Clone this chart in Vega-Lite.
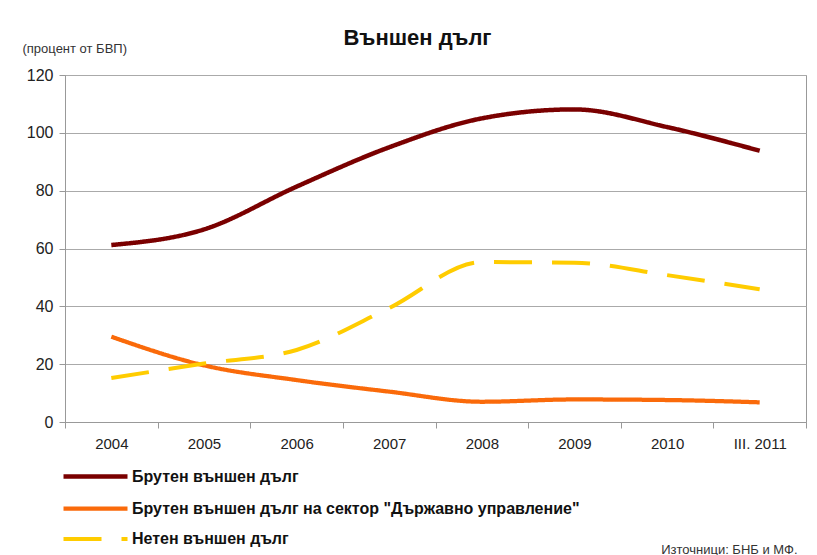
{
  "$schema": "https://vega.github.io/schema/vega-lite/v6.json",
  "width": 741,
  "height": 347,
  "autosize": {"type": "none"},
  "padding": {"left": 65, "top": 75, "right": 11, "bottom": 133},
  "background": "white",
  "title": {
    "text": "Външен дълг",
    "font": "Liberation Sans",
    "fontSize": 22,
    "fontWeight": "bold",
    "color": "#111111",
    "anchor": "middle",
    "dx": -18,
    "offset": -8
  },
  "data": {
    "values": [
      {"year": "2004", "series": "Брутен външен дълг", "value": 61.2},
      {"year": "2005", "series": "Брутен външен дълг", "value": 66.6},
      {"year": "2006", "series": "Брутен външен дълг", "value": 81.4},
      {"year": "2007", "series": "Брутен външен дълг", "value": 95.0},
      {"year": "2008", "series": "Брутен външен дълг", "value": 105.0},
      {"year": "2009", "series": "Брутен външен дълг", "value": 108.1},
      {"year": "2010", "series": "Брутен външен дълг", "value": 102.0},
      {"year": "III. 2011", "series": "Брутен външен дълг", "value": 93.8},
      {"year": "2004", "series": "Брутен външен дълг на сектор \"Държавно управление\"", "value": 29.5},
      {"year": "2005", "series": "Брутен външен дълг на сектор \"Държавно управление\"", "value": 19.6},
      {"year": "2006", "series": "Брутен външен дълг на сектор \"Държавно управление\"", "value": 14.5},
      {"year": "2007", "series": "Брутен външен дълг на сектор \"Държавно управление\"", "value": 10.5},
      {"year": "2008", "series": "Брутен външен дълг на сектор \"Държавно управление\"", "value": 7.0},
      {"year": "2009", "series": "Брутен външен дълг на сектор \"Държавно управление\"", "value": 7.8},
      {"year": "2010", "series": "Брутен външен дълг на сектор \"Държавно управление\"", "value": 7.6},
      {"year": "III. 2011", "series": "Брутен външен дълг на сектор \"Държавно управление\"", "value": 6.8},
      {"year": "2004", "series": "Нетен външен дълг", "value": 15.2},
      {"year": "2005", "series": "Нетен външен дълг", "value": 20.2},
      {"year": "2006", "series": "Нетен външен дълг", "value": 24.9},
      {"year": "2007", "series": "Нетен външен дълг", "value": 39.4},
      {"year": "2008", "series": "Нетен външен дълг", "value": 55.3},
      {"year": "2009", "series": "Нетен външен дълг", "value": 55.1},
      {"year": "2010", "series": "Нетен външен дълг", "value": 50.8},
      {"year": "III. 2011", "series": "Нетен външен дълг", "value": 45.9}
    ]
  },
  "mark": {"type": "line", "interpolate": "monotone", "strokeCap": "butt"},
  "encoding": {
    "x": {
      "field": "year",
      "type": "ordinal",
      "sort": ["2004", "2005", "2006", "2007", "2008", "2009", "2010", "III. 2011"],
      "bandPosition": 0.5,
      "scale": {"type": "band", "paddingInner": 0, "paddingOuter": 0},
      "axis": {
        "title": "Източници: БНБ и МФ.",
        "titleFont": "Liberation Sans",
        "titleFontSize": 13,
        "titleFontWeight": "normal",
        "titleColor": "#333333",
        "titleAnchor": "end",
        "titleAlign": "right",
        "titleBaseline": "alphabetic",
        "titleX": 732,
        "titleY": 131,
        "tickBand": "extent",
        "labelAngle": 0,
        "labelFont": "Liberation Sans",
        "labelFontSize": 15,
        "labelColor": "#222222",
        "labelPadding": 8,
        "tickSize": 6,
        "tickColor": "#999999",
        "domainColor": "#999999",
        "grid": false
      }
    },
    "y": {
      "field": "value",
      "type": "quantitative",
      "scale": {"domain": [0, 120], "nice": false},
      "axis": {
        "values": [0, 20, 40, 60, 80, 100, 120],
        "title": "(процент от БВП)",
        "titleFont": "Liberation Sans",
        "titleFontSize": 13,
        "titleFontWeight": "normal",
        "titleColor": "#333333",
        "titleAngle": 0,
        "titleAlign": "left",
        "titleBaseline": "alphabetic",
        "titleX": -43,
        "titleY": -23,
        "labelFont": "Liberation Sans",
        "labelFontSize": 16,
        "labelColor": "#222222",
        "labelPadding": 6,
        "tickSize": 6,
        "tickColor": "#999999",
        "domainColor": "#999999",
        "grid": true,
        "gridColor": "#aaaaaa",
        "gridWidth": 1
      }
    },
    "color": {
      "field": "series",
      "type": "nominal",
      "title": null,
      "sort": null,
      "scale": {
        "domain": ["Брутен външен дълг", "Брутен външен дълг на сектор \"Държавно управление\"", "Нетен външен дълг"],
        "range": ["#7a0000", "#fa6a0a", "#ffcc00"]
      }
    },
    "strokeDash": {
      "field": "series",
      "type": "nominal",
      "title": null,
      "sort": null,
      "scale": {
        "domain": ["Брутен външен дълг", "Брутен външен дълг на сектор \"Държавно управление\"", "Нетен външен дълг"],
        "range": [[1, 0], [1, 0], [38, 20]]
      }
    },
    "strokeWidth": {
      "field": "series",
      "type": "nominal",
      "title": null,
      "sort": null,
      "scale": {
        "domain": ["Брутен външен дълг", "Брутен външен дълг на сектор \"Държавно управление\"", "Нетен външен дълг"],
        "range": [4.5, 4, 6]
      }
    }
  },
  "config": {
    "view": {"stroke": "#999999", "strokeWidth": 1},
    "legend": {
      "orient": "none",
      "direction": "vertical",
      "legendX": 20,
      "legendY": 391,
      "padding": 0,
      "symbolType": "M-4,0H4",
      "symbolSize": 256,
      "symbolOffset": 0,
      "labelOffset": 26,
      "labelFont": "Liberation Sans",
      "labelFontSize": 16,
      "labelFontWeight": "bold",
      "labelColor": "#111111",
      "labelLimit": 0,
      "rowPadding": 12
    }
  }
}
